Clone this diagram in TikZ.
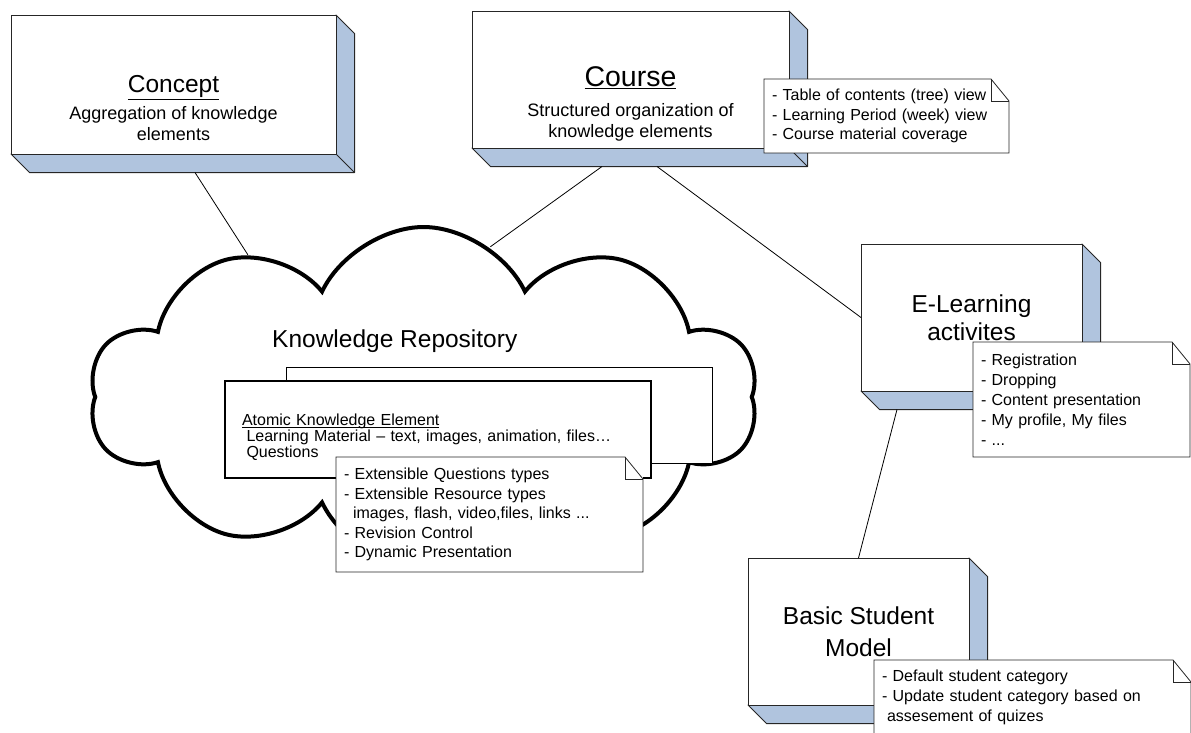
\documentclass[tikz,border=0pt]{standalone}
\usepackage{fontspec}
\setmainfont{Liberation Sans}
\usetikzlibrary{shapes.symbols,backgrounds}
\definecolor{depthBlue}{RGB}{176,196,222}

\begin{document}
\begin{tikzpicture}
[x=1pt,y=-1pt,
  lineDecorate/.style={-,line width=0.8pt},
  boxDecorate/.style={shape=rectangle,draw=black!85,fill=white,line width=1pt,inner sep=0pt,outer sep=0pt,anchor=north west},
  depthDecorate/.style={draw=black!85,line width=1pt,line join=round},
  cloudDecorate/.style={shape=cloud,draw,fill=white,line width=4pt,cloud puffs=10,cloud puff arc=130,cloud ignores aspect,shape border rotate=-6,minimum width=668pt,minimum height=340pt,inner sep=0pt},
  titleDecorate/.style={align=center,inner sep=0pt,font=\fontsize{18}{21}\selectfont},
  nameDecorate/.style={align=center,inner sep=0pt,font=\fontsize{24.5}{27.5}\selectfont},
  elementDecorate/.style={text width=400pt,align=left,inner sep=0pt,font=\fontsize{16}{16}\selectfont},
  noteDecorate/.style={shape=rectangle,fill=white,inner xsep=8pt,inner ysep=0pt,outer sep=0pt,anchor=north west,align=left,font=\fontsize{16}{19.5}\selectfont},
  outlineDecorate/.style={draw=black!85,line width=0.8pt,line join=miter}]
\useasboundingbox (0,0) rectangle (1191,732);

%% knowledge repository
\node (repo) at (423.5,397) [cloudDecorate] {};
\node (repoTitle) at (272,347.5) [anchor=base west,inner sep=0pt,font=\fontsize{24.5}{28}\selectfont] {Knowledge Repository};
\node (elementBack) at (286,367) [boxDecorate,draw=black,minimum width=426pt,minimum height=96pt] {};
\node (elementFront) at (225,381) [boxDecorate,draw=black,line width=1.4pt,minimum width=426pt,minimum height=97pt,
  label={[elementDecorate,xshift=4pt,yshift=-8pt]center:{\underline{\vphantom{A}\smash{Atomic Knowledge Element}}\\
  \hspace*{4.5pt}Learning Material – text, images, animation, files…\\\hspace*{4.5pt}Questions}}] {};

%% boxes
\node (concept) at (11,15) [boxDecorate,minimum width=325pt,minimum height=139pt,
  label={[titleDecorate,yshift=-24pt]center:{{\fontsize{24.5}{27}\selectfont\underline{Concept}}\\[6pt]Aggregation of knowledge\\elements}}] {};
\node (course) at (472,11) [boxDecorate,minimum width=317pt,minimum height=137pt,
  label={[titleDecorate,yshift=-24.4pt]center:{{\fontsize{28.5}{31}\selectfont\underline{Course}}\\[9pt]Structured organization of\\knowledge elements}}] {};
\node (elearn) at (861,244) [boxDecorate,minimum width=221pt,minimum height=147pt,
  label={[nameDecorate]center:{E-Learning\\activites}}] {};
\node (student) at (748,558) [boxDecorate,minimum width=221pt,minimum height=147pt,
  label={[nameDecorate,font=\fontsize{24.5}{31.5}\selectfont]center:{Basic Student\\Model}}] {};

%% shaded sides
\begin{scope}[on background layer]
\foreach \boxname in {concept,course,elearn,student}
{
  \draw[depthDecorate,fill=depthBlue] (\boxname.north east) -- ++(18.5,18.5)
    -- ([shift={(18.5,18.5)}]\boxname.south east)
    -- ([shift={(18.5,18.5)}]\boxname.south west)
    -- (\boxname.south west) -- (\boxname.south east) -- cycle;
  \draw[depthDecorate] (\boxname.south east) -- ++(18.5,18.5);
}
\end{scope}

%% edges or lines
\coordinate (conceptFoot) at ([xshift=21.5pt,yshift=-18.5pt]concept.south);
\coordinate (courseFootA) at ([xshift=-28.5pt,yshift=-18.5pt]course.south);
\coordinate (courseFootB) at ([xshift=26.5pt,yshift=-18.5pt]course.south);
\coordinate (learnFoot) at ([xshift=-74.5pt,yshift=-18.5pt]elearn.south);
\path
\foreach \startnode/\endnode in {
  conceptFoot/repo.141, courseFootA/repo.66, courseFootB/elearn.west, learnFoot/student.north}
{
  (\startnode) edge[lineDecorate] (\endnode)
};

%% notes
\node (courseNote) at (764,79) [noteDecorate,text width=229pt,minimum height=74pt]
  {- Table of contents (tree) view\\- Learning Period (week) view\\- Course material coverage};
\node (learnNote) at (973,342) [noteDecorate,text width=201pt,minimum height=115pt,font=\fontsize{16}{20}\selectfont]
  {- Registration\\- Dropping\\- Content presentation\\- My profile, My files\\- ...};
\node (studentNote) at (874,660) [noteDecorate,text width=301pt,minimum height=74pt,font=\fontsize{16}{20}\selectfont]
  {- Default student category\\- Update student category based on\\\hspace*{5pt}assesement of quizes};
\node (elementNote) at (336,457) [noteDecorate,text width=291pt,minimum height=115pt]
  {- Extensible Questions types\\- Extensible Resource types\\\hspace*{9pt}images, flash, video,files, links ...\\- Revision Control\\- Dynamic Presentation};
\foreach \notename in {courseNote,learnNote,studentNote,elementNote}
{
  \draw[outlineDecorate] (\notename.north west) -- ([xshift=-18pt]\notename.north east)
    -- ([yshift=-22pt]\notename.north east) -- (\notename.south east)
    -- (\notename.south west) -- cycle;
  \draw[outlineDecorate] ([xshift=-18pt]\notename.north east) |- ([yshift=-22pt]\notename.north east);
}
\end{tikzpicture}
\end{document}
